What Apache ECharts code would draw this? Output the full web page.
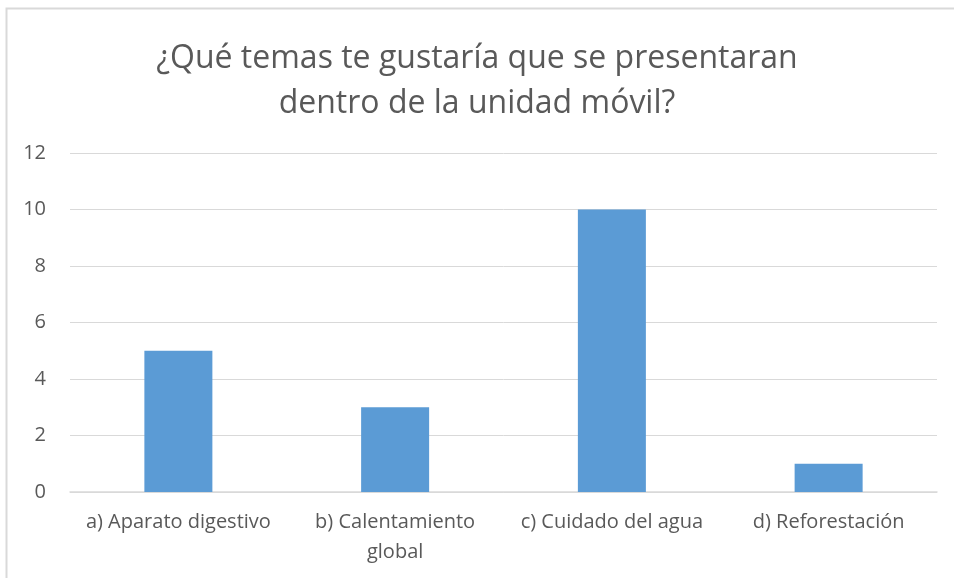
<!DOCTYPE html>
<html>
<head>
<meta charset="utf-8">
<script src="https://cdn.jsdelivr.net/npm/echarts@6/dist/echarts.min.js"></script>
<style>
  html, body { margin: 0; padding: 0; background: #fff; }
  #chart { width: 954px; height: 578px; }
</style>
</head>
<body>
<div id="chart"></div>
<script>
const titleText = "¿Qué temas te gustaría que se presentaran\ndentro de la unidad móvil?";
const categories = ["a) Aparato digestivo", "b) Calentamiento\nglobal", "c) Cuidado del agua", "d) Reforestación"];
const values = [5, 3, 10, 1];

const FONT = "'Open Sans', 'Noto Sans', sans-serif";
const TEXT_COLOR = "#595959";
const LINE_COLOR = "#d9d9d9";

const chart = echarts.init(document.getElementById("chart"));
chart.setOption({
  animation: false,
  backgroundColor: "#fff",
  graphic: [{
    type: "rect",
    shape: { x: 6.5, y: 8.5, width: 1000, height: 1000 },
    style: { fill: "none", stroke: LINE_COLOR, lineWidth: 2 },
    silent: true,
  }],
  title: {
    text: titleText,
    left: "center",
    top: 31,
    textStyle: {
      color: TEXT_COLOR,
      fontFamily: FONT,
      fontSize: 32,
      fontWeight: "normal",
      lineHeight: 45,
    },
  },
  grid: { left: 70, right: 17, top: 153, bottom: 86 },
  xAxis: {
    type: "category",
    data: categories,
    axisLine: { lineStyle: { color: LINE_COLOR, width: 1.5 } },
    axisTick: { show: false },
    axisLabel: {
      color: TEXT_COLOR,
      fontFamily: FONT,
      fontSize: 20,
      margin: 15,
      lineHeight: 30,
      interval: 0,
    },
  },
  yAxis: {
    type: "value",
    min: 0,
    max: 12,
    interval: 2,
    axisLine: { show: false },
    axisTick: { show: false },
    axisLabel: {
      color: TEXT_COLOR,
      fontFamily: FONT,
      fontSize: 20,
      margin: 24,
    },
    splitLine: { lineStyle: { color: LINE_COLOR, width: 1 } },
  },
  series: [{
    type: "bar",
    data: values,
    barWidth: 68,
    itemStyle: { color: "#5b9bd5" },
  }],
});
</script>
</body>
</html>
